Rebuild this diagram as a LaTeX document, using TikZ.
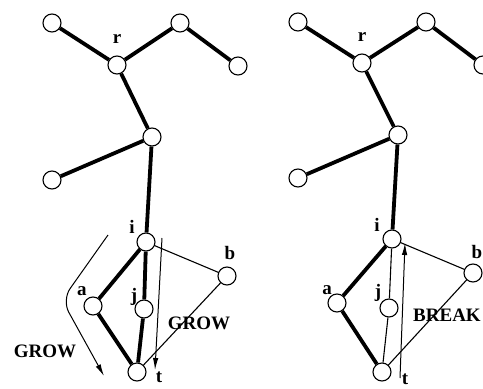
\documentclass[tikz,border=0pt]{standalone}
\usepackage{fontspec}
\setmainfont{Liberation Serif}
\usetikzlibrary{arrows.meta}

\begin{document}
\begin{tikzpicture}[x=1pt,y=-1pt,
    vtx/.style={circle,draw,fill=white,line width=1.1pt,minimum size=18pt,inner sep=0pt},
    lab/.style={font=\bfseries\fontsize{19}{19}\selectfont,inner sep=0pt},
    heavy/.style={line width=3.8pt},
    light/.style={line width=1.1pt},
    flow/.style={line width=1pt,-{Latex[length=12pt,width=5.5pt]}}]
    \useasboundingbox (0,0) rectangle (483,389);
    % left picture
    \node[vtx] (tl1) at (52,23) {};
    \node[vtx] (r1) at (117,65) {};
    \node[vtx] (tr1) at (180,23) {};
    \node[vtx] (rl1) at (238,66) {};
    \node[vtx] (m1) at (152,137) {};
    \node[vtx] (ll1) at (52,180) {};
    \node[vtx] (i1) at (146,242) {};
    \node[vtx] (a1) at (93,306) {};
    \node[vtx] (j1) at (144,309) {};
    \node[vtx] (b1) at (227,276) {};
    \node[vtx] (t1) at (137,372) {};
    \draw[heavy] (tl1)--(r1);
    \draw[heavy] (r1)--(tr1);
    \draw[heavy] (tr1)--(rl1);
    \draw[heavy] (r1)--(m1);
    \draw[heavy] (m1)--(ll1);
    \draw[heavy] (m1)--(i1);
    \draw[heavy] (i1)--(a1);
    \draw[heavy] (a1)--(t1);
    \draw[heavy] (i1)--(j1);
    \draw[heavy] (j1)--(t1);
    \draw[light] (i1)--(b1);
    \draw[light] (b1)--(t1);
    \node[lab] (rlab1) at (117,39) {r};
    \node[lab] (ilab1) at (132,227) {i};
    \node[lab] (alab1) at (82,291) {a};
    \node[lab] (jlab1) at (134,297) {j};
    \node[lab] (blab1) at (230,253) {b};
    \node[lab] (tlab1) at (159,377) {t};
    \coordinate (g1s) at (108,235);
    \coordinate (g1m) at (62,300);
    \coordinate (g1e) at (104,376);
    \draw[flow,rounded corners=14pt] (g1s)--(g1m)--(g1e);
    \node[lab] (grow1) at (45,351) {GROW};
    \coordinate (g2s) at (162,238);
    \coordinate (g2e) at (155,370);
    \draw[flow] (g2s)--(g2e);
    \node[lab] (grow2) at (199,323) {GROW};
    % right picture
    \node[vtx] (tl2) at (298,22) {};
    \node[vtx] (r2) at (362,63) {};
    \node[vtx] (tr2) at (426,22) {};
    \node[vtx] (rl2) at (483,65) {};
    \node[vtx] (m2) at (398,135) {};
    \node[vtx] (ll2) at (298,178) {};
    \node[vtx] (i2) at (392,239) {};
    \node[vtx] (a2) at (337,303) {};
    \node[vtx] (j2) at (389,308) {};
    \node[vtx] (b2) at (473,273) {};
    \node[vtx] (t2) at (382,372) {};
    \draw[heavy] (tl2)--(r2);
    \draw[heavy] (r2)--(tr2);
    \draw[heavy] (tr2)--(rl2);
    \draw[heavy] (r2)--(m2);
    \draw[heavy] (m2)--(ll2);
    \draw[heavy] (m2)--(i2);
    \draw[heavy] (i2)--(a2);
    \draw[heavy] (a2)--(t2);
    \draw[light] (i2)--(j2);
    \draw[light] (j2)--(t2);
    \draw[light] (i2)--(b2);
    \draw[light] (b2)--(t2);
    \node[lab] (rlab2) at (362,37) {r};
    \node[lab] (ilab2) at (377,225) {i};
    \node[lab] (alab2) at (327,290) {a};
    \node[lab] (jlab2) at (378,293) {j};
    \node[lab] (blab2) at (477,252) {b};
    \node[lab] (tlab2) at (405,379) {t};
    \coordinate (bks) at (400,378);
    \coordinate (bke) at (405,243);
    \draw[flow] (bks)--(bke);
    \node[lab] (brk) at (447,315) {BREAK};
\end{tikzpicture}
\end{document}
